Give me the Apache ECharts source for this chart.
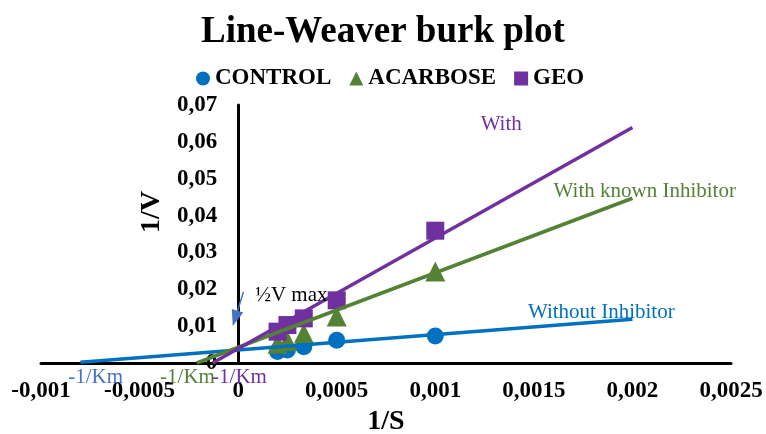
<!DOCTYPE html>
<html><head><meta charset="utf-8">
<script src="https://cdn.jsdelivr.net/npm/echarts@6/dist/echarts.min.js"></script>
<style>html,body{margin:0;padding:0;background:#fff}#c{width:766px;height:434px}</style>
</head><body><div id="c"></div>
<script>
// 1/S values (x)
const invS = [0.0002, 0.00025, 0.000333, 0.0005, 0.001];
// 1/V values (y)
const controlV = [0.0031, 0.0035, 0.0044, 0.0062, 0.0073];
const acarboseV = [0.0052, 0.0060, 0.0080, 0.0126, 0.0248];
const geoV = [0.0085, 0.0103, 0.0121, 0.0170, 0.0359];
// trendline endpoints [x, y]
const controlTrend = [[-0.0008, 0.0002], [0.002, 0.0119]];
const acarboseTrend = [[-0.00021, 0], [0.002, 0.0447]];
const geoTrend = [[-0.00013, 0], [0.002, 0.0639]];
// arrow to 1/2 Vmax (data coords)
const arrowFrom = [0.0000269, 0.0193];
const arrowTo = [-0.0000152, 0.0121];
// annotation texts anchored at data coords (left, middle)
const notes = [
  {text: 'With', x: 0.00123, y: 0.0646, color: '#7030A0'},
  {text: 'With known Inhibitor', x: 0.0016, y: 0.0464, color: '#548235'},
  {text: 'Without Inhibitor', x: 0.00147, y: 0.0138, color: '#0070C0'},
  {text: '½V max', x: 0.0000862, y: 0.0182, color: '#000000'},
  {text: '-1/Km', x: -0.000862, y: -0.0040, color: '#4472C4'},
  {text: '-1/Km', x: -0.000396, y: -0.0040, color: '#548235'},
  {text: '-1/Km', x: -0.000132, y: -0.0040, color: '#7030A0'}
];
const seriesNames = ['CONTROL', 'ACARBOSE', 'GEO'];
const colors = ['#0070C0', '#548235', '#7030A0'];

const FONT = '"Liberation Serif", "Times New Roman", serif';
const fmt = v => v === 0 ? '0' : String(+v.toFixed(6)).replace('.', ',');
const pts = ys => invS.map((x, i) => [x, ys[i]]);

const GRID = {left: 41, right: 35, top: 105, bottom: 71};
const X_MIN = -0.001, X_MAX = 0.0025;
// y axis sits at x = 0: shift it inward from the grid's left edge
const yShift = (0 - X_MIN) / (X_MAX - X_MIN) * (766 - GRID.left - GRID.right);

const chart = echarts.init(document.getElementById('c'), null, {renderer: 'canvas'});
chart.setOption({
  animation: false,
  backgroundColor: '#fff',
  title: {
    text: 'Line-Weaver burk plot', left: 'center', top: 9,
    textStyle: {fontFamily: FONT, fontSize: 37, fontWeight: 'bold', color: '#000'}
  },
  legend: {
    data: [
      {name: 'CONTROL', icon: 'circle'},
      {name: 'ACARBOSE', icon: 'triangle'},
      {name: 'GEO', icon: 'rect'}
    ],
    left: 191, top: 62, itemWidth: 14, itemHeight: 14, itemGap: 18,
    textStyle: {fontFamily: FONT, fontSize: 23, fontWeight: 'bold', color: '#000'}
  },
  grid: Object.assign({containLabel: false, outerBoundsMode: 'none'}, GRID),
  xAxis: {
    type: 'value', min: X_MIN, max: X_MAX, interval: 0.0005,
    name: '1/S', nameLocation: 'middle', nameGap: 45,
    nameTextStyle: {fontFamily: FONT, fontSize: 28, fontWeight: 'bold', color: '#000'},
    axisLine: {onZero: true, lineStyle: {color: '#000', width: 3}},
    axisTick: {show: false}, splitLine: {show: false},
    axisLabel: {formatter: fmt, margin: 17, fontFamily: FONT, fontSize: 23, fontWeight: 'bold', color: '#000'}
  },
  yAxis: {
    type: 'value', min: 0, max: 0.07, interval: 0.01, offset: -yShift,
    name: '1/V', nameLocation: 'middle', nameGap: 72,
    nameTextStyle: {fontFamily: FONT, fontSize: 28, fontWeight: 'bold', color: '#000', padding: [0, 0, 0, 44]},
    axisLine: {onZero: false, lineStyle: {color: '#000', width: 3}},
    axisTick: {show: false}, splitLine: {show: false},
    axisLabel: {formatter: fmt, margin: 21, fontFamily: FONT, fontSize: 23, fontWeight: 'bold', color: '#000'}
  },
  series: [
    {name: 'CONTROL', type: 'scatter', symbol: 'circle', symbolSize: 17, z: 2,
     itemStyle: {color: colors[0], opacity: 1}, data: pts(controlV)},
    {name: 'ACARBOSE', type: 'scatter', symbol: 'triangle', symbolSize: 20, z: 2,
     itemStyle: {color: colors[1], opacity: 1}, data: pts(acarboseV)},
    {name: 'GEO', type: 'scatter', symbol: 'rect', symbolSize: 18, z: 2,
     itemStyle: {color: colors[2], opacity: 1}, data: pts(geoV)},
    {name: 'CONTROL trend', type: 'line', showSymbol: false, symbol: 'none', z: 3,
     lineStyle: {color: colors[0], width: 3.5}, data: controlTrend,
     markLine: {
       silent: true, symbol: ['none', 'triangle'], symbolSize: [12, 16],
       label: {show: false},
       lineStyle: {color: '#4472C4', width: 1.5, type: 'solid'},
       data: [[{coord: arrowFrom}, {coord: arrowTo}]]
     }},
    {name: 'ACARBOSE trend', type: 'line', showSymbol: false, symbol: 'none', z: 3,
     lineStyle: {color: colors[1], width: 3.5}, data: acarboseTrend},
    {name: 'GEO trend', type: 'line', showSymbol: false, symbol: 'none', z: 3,
     lineStyle: {color: colors[2], width: 3.5}, data: geoTrend}
  ]
});

const graphics = notes.map(n => {
  const p = chart.convertToPixel({gridIndex: 0}, [n.x, n.y]);
  return {
    type: 'text', x: p[0], y: p[1], z: 10,
    style: {text: n.text, fill: n.color, font: '21px ' + FONT, textAlign: 'left', textVerticalAlign: 'middle'}
  };
});
chart.setOption({graphic: graphics});
</script>
</body></html>
